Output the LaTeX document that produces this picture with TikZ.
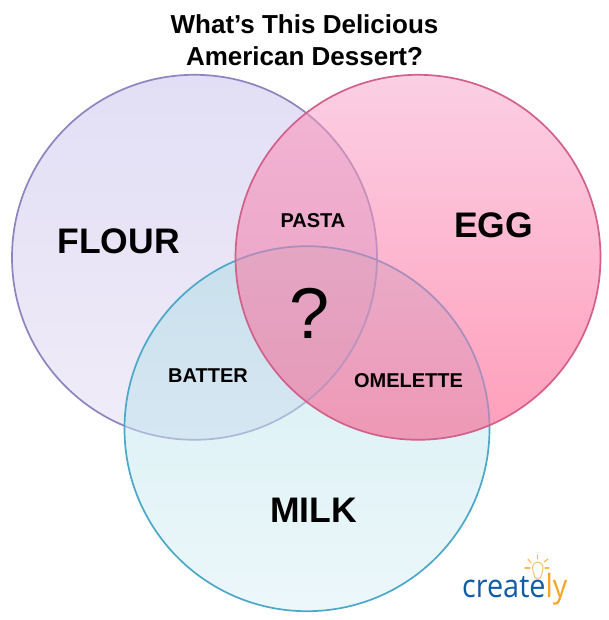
\documentclass[tikz,border=0pt]{standalone}
\usepackage{fontspec}
\setmainfont{Liberation Sans}
\newfontfamily\logofont{Open Sans}
\definecolor{flouredge}{HTML}{8E85C0}
\definecolor{eggedge}{HTML}{D2608A}
\definecolor{milkedge}{HTML}{4CA8C8}
\definecolor{flourmuted}{HTML}{C48FBB}
\definecolor{flourmilk}{HTML}{AEB8DA}
\definecolor{milkmuted}{HTML}{A98EBC}
\definecolor{logoblue}{HTML}{0F5CA8}
\definecolor{logoorange}{HTML}{F6A623}
\definecolor{flourtop}{RGB}{226,222,245}
\definecolor{flourbot}{RGB}{240,236,248}
\definecolor{milktop}{RGB}{212,238,243}
\definecolor{milkbot}{RGB}{236,247,250}
\definecolor{eggtop}{RGB}{251,207,228}
\definecolor{eggbot}{RGB}{255,158,186}
\definecolor{fmtop}{HTML}{C8E0EC}
\definecolor{fmbot}{HTML}{D6E7F2}
\definecolor{eftop}{HTML}{F3B4D4}
\definecolor{efbot}{HTML}{EBA6C8}
\definecolor{emtop}{HTML}{E9ACC8}
\definecolor{embot}{HTML}{EE98B5}
\definecolor{alltop}{HTML}{E4A6C4}
\definecolor{allbot}{HTML}{E69AB8}
\tikzset{
  x=1pt,y=-1pt,
  edge/.style={line width=1.7pt},
  big/.style={font=\bfseries\fontsize{35.5}{40}\selectfont,text=black,inner sep=0pt},
  small/.style={font=\bfseries\fontsize{20}{22}\selectfont,text=black,inner sep=0pt},
  ray/.style={logoorange!80,line width=1.1pt,line cap=round},
}
\begin{document}
\begin{tikzpicture}
\useasboundingbox (0,0) rectangle (608,620);
\fill[white] (0,0) rectangle (608,620);
\coordinate (F) at (194.5,257.3);
\coordinate (E) at (418,257.3);
\coordinate (M) at (307,428.7);
% fills
\shade[top color=flourtop,bottom color=flourbot] (F) circle[radius=182.5pt];
\shade[top color=milktop,bottom color=milkbot] (M) circle[radius=182.5pt];
\shade[top color=eggtop,bottom color=eggbot] (E) circle[radius=182.5pt];
\begin{scope}
\clip (F) circle[radius=182.5pt];
\clip (M) circle[radius=182.5pt];
\shade[top color=fmtop,bottom color=fmbot] (100,245) rectangle (400,441);
\end{scope}
\begin{scope}
\clip (E) circle[radius=182.5pt];
\clip (F) circle[radius=182.5pt];
\shade[top color=eftop,bottom color=efbot] (200,95) rectangle (400,300);
\end{scope}
\begin{scope}
\clip (E) circle[radius=182.5pt];
\clip (M) circle[radius=182.5pt];
\shade[top color=emtop,bottom color=embot] (200,245) rectangle (500,441);
\clip (F) circle[radius=182.5pt];
\shade[top color=alltop,bottom color=allbot] (200,245) rectangle (400,415);
\end{scope}
% flour outline
\begin{scope}[even odd rule]
\clip (0,0) rectangle (608,620) (M) circle[radius=182.5pt];
\clip (0,0) rectangle (608,620) (E) circle[radius=182.5pt];
\draw[edge,flouredge] (F) circle[radius=182.5pt];
\end{scope}
\begin{scope}
\clip (M) circle[radius=182.5pt];
\draw[edge,flourmilk] (F) circle[radius=182.5pt];
\end{scope}
\begin{scope}
\clip (E) circle[radius=182.5pt];
\draw[edge,flourmuted] (F) circle[radius=182.5pt];
\end{scope}
% milk outline
\begin{scope}[even odd rule]
\clip (0,0) rectangle (608,620) (E) circle[radius=182.5pt];
\draw[edge,milkedge] (M) circle[radius=182.5pt];
\end{scope}
\begin{scope}
\clip (E) circle[radius=182.5pt];
\draw[edge,milkmuted] (M) circle[radius=182.5pt];
\end{scope}
% egg outline
\draw[edge,eggedge] (E) circle[radius=182.5pt];
% texts
\node[align=center,font=\bfseries\fontsize{26}{32}\selectfont,inner sep=0pt] (title) at (304.5,40) {What’s This Delicious\\American Dessert?};
\node[big] (flour) at (118.5,241) {FLOUR};
\node[big] (egg) at (493.5,225) {EGG};
\node[big] (milk) at (313.5,510) {MILK};
\node[small] (pasta) at (313,221) {PASTA};
\node[small] (batter) at (208,376) {BATTER};
\node[small] (omelette) at (408.5,381) {OMELETTE};
\node[font=\fontsize{72}{72}\selectfont,inner sep=0pt] (q) at (310,313) {?};
% logo
\node[inner sep=0pt,anchor=base west,font=\logofont\fontsize{32}{32}\selectfont] (logo) at (462,597) {\scalebox{0.9}[1]{\textcolor{logoblue}{create}\textcolor{logoorange}{ly}}};
\draw[logoorange!70,line width=1pt] (535,578) .. controls (534,573) and (532.5,572) .. (532.5,568) .. controls (532.5,560) and (543,560) .. (543,568) .. controls (543,572) and (541.5,573) .. (540.5,578) -- cycle;
\draw[ray] (537.7,555) -- (537.7,559);
\draw[ray] (528,559) -- (531,563);
\draw[ray] (548,559) -- (544,562);
\draw[ray] (525,568) -- (530,568);
\draw[ray] (545,568) -- (549,568);
\end{tikzpicture}
\end{document}
